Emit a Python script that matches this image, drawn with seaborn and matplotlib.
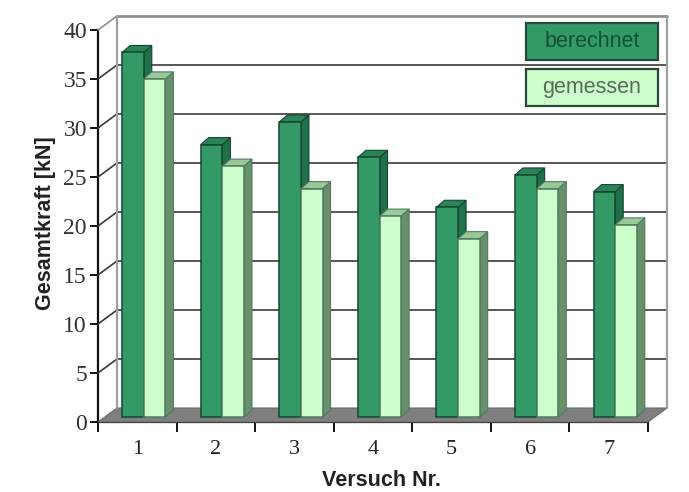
import matplotlib
matplotlib.use("Agg")
import matplotlib.pyplot as plt
from matplotlib.patches import Polygon, Rectangle
from matplotlib.transforms import IdentityTransform
import seaborn as sns
import pandas as pd

# Values
versuche = ["1", "2", "3", "4", "5", "6", "7"]
berechnet = [37.2, 27.8, 30.1, 26.5, 21.4, 24.7, 23.0]
gemessen = [34.5, 25.6, 23.3, 20.5, 18.2, 23.3, 19.6]
y_ticks = [0, 5, 10, 15, 20, 25, 30, 35, 40]

df = pd.DataFrame({
    "versuch": versuche * 2,
    "kraft": berechnet + gemessen,
    "serie": ["berechnet"] * 7 + ["gemessen"] * 7,
})

# Colours: front, top, side
DARK = ("#339966", "#2b8257", "#1f6f48")
LIGHT = ("#ccffcc", "#99c999", "#68906c")
EDGE_DARK = "#14472e"
EDGE_LIGHT = "#4f7a5c"

sns.set_style("white")
plt.rcParams["font.family"] = ["Liberation Sans", "DejaVu Sans"]

W, H = 689, 492
fig = plt.figure(figsize=(W / 100, H / 100), dpi=100)
ax = fig.add_axes([98 / W, (H - 422) / H, 550 / W, 392 / H])

sns.barplot(data=df, x="versuch", y="kraft", hue="serie",
            palette={"berechnet": DARK[0], "gemessen": LIGHT[0]},
            width=0.55, gap=0, legend=False, ax=ax)
ax.set_xlim(-0.5, 6.5)
ax.set_ylim(0, 40)
ax.patch.set_alpha(0)

# Fake 3D: wall depth and bar depth in pixels
wall_dx, wall_dy = 19, 14
bar_dx, bar_dy = 6.5, 5
depth_dx, depth_dy = 8, 7


def px(x, y):
    return ax.transData.transform((x, y))


def poly(points, **kw):
    p = Polygon(points, closed=True, transform=IdentityTransform(), clip_on=False, **kw)
    fig.add_artist(p)
    return p


def line(a, b, color, lw, z=1):
    fig.add_artist(plt.Line2D([a[0], b[0]], [a[1], b[1]], color=color, lw=lw,
                              transform=IdentityTransform(), zorder=z))


x0, x1 = ax.get_xlim()
fl, fr = px(x0, 0), px(x1, 0)
tl, tr = px(x0, 40), px(x1, 40)
shift = (wall_dx, wall_dy)

# Floor
poly([fl, fr, fr + shift, fl + shift], facecolor="#7f7f7f", edgecolor="#6a6a6a", lw=0.8, zorder=1)

# Walls and grid
for t in y_ticks[1:]:
    a, b = px(x0, t), px(x1, t)
    col = "#8f8f8f" if t == 40 else "#3a3a3a"
    lw = 2 if t == 40 else 1.2
    line(a + shift, b + shift, col, lw)
    line(a, a + shift, "#3a3a3a" if t < 40 else "#8f8f8f", 1.2)
line(fl + shift, tl + shift, "#a0a0a0", 1.6)
line(fr + shift, tr + shift, "#a0a0a0", 1.6)

# Bars: move the fronts onto the floor, then add top and side faces
z = 3
for i in range(len(versuche)):
    for cont, cols, edge in zip(ax.containers, (DARK, LIGHT), (EDGE_DARK, EDGE_LIGHT)):
        bar = cont[i]
        bx, by, bw, bh = bar.get_x(), bar.get_y(), bar.get_width(), bar.get_height()
        ll = px(bx, by) + (bar_dx, bar_dy)
        lr = px(bx + bw, by) + (bar_dx, bar_dy)
        ul = px(bx, by + bh) + (bar_dx, bar_dy)
        ur = px(bx + bw, by + bh) + (bar_dx, bar_dy)
        d = (depth_dx, depth_dy)
        poly([lr, lr + d, ur + d, ur], facecolor=cols[2], edgecolor=edge, lw=0.8, zorder=z)
        poly([ul, ur, ur + d, ul + d], facecolor=cols[1], edgecolor=edge, lw=0.8, zorder=z)
        poly([ll, lr, ur, ul], facecolor=cols[0], edgecolor=edge, lw=1.1, zorder=z + 0.5)
        bar.set_visible(False)
        z += 1

# Axes
sns.despine(ax=ax, top=True, right=True)
for s in ("left", "bottom"):
    ax.spines[s].set_color("#111111")
    ax.spines[s].set_linewidth(1.6)
ax.set_yticks(y_ticks)
ax.set_xticks([x0 + i for i in range(8)], minor=True)
ax.set_xlim(x0, x1)
ax.tick_params(axis="x", which="major", length=0, pad=13, labelsize=16, labelcolor="#222222")
ax.tick_params(axis="x", which="minor", length=7, width=1.4, color="#111111", bottom=True, direction="out")
ax.tick_params(axis="y", length=6, width=1.4, color="#111111", left=True, pad=2,
               labelsize=17, labelcolor="#333333")
for lab in ax.get_xticklabels() + ax.get_yticklabels():
    lab.set_family(["Liberation Serif", "DejaVu Serif"])
ax.set_xlabel("")
ax.set_ylabel("")
fig.text(46 / W, 1 - 223 / H, "Gesamtkraft [kN]", rotation=90, ha="center", va="center",
         fontsize=15.5, fontweight="bold", color="#222222")
fig.text(382 / W, 1 - 481 / H, "Versuch Nr.", ha="center", va="center",
         fontsize=15.5, fontweight="bold", color="#222222")

# Legend boxes
for label, top, face, txt in (("berechnet", 23, DARK[0], "#0f5230"), ("gemessen", 69, LIGHT[0], "#566e58")):
    fig.add_artist(Rectangle((526 / W, 1 - (top + 37) / H), 132 / W, 37 / H, transform=fig.transFigure,
                             facecolor=face, edgecolor="#274a38", lw=1.6, zorder=60))
    fig.text(592 / W, 1 - (top + 18.5) / H, label, ha="center", va="center",
             fontsize=15.5, color=txt, zorder=61)

fig.savefig("out.png", dpi=100)
plt.close()
